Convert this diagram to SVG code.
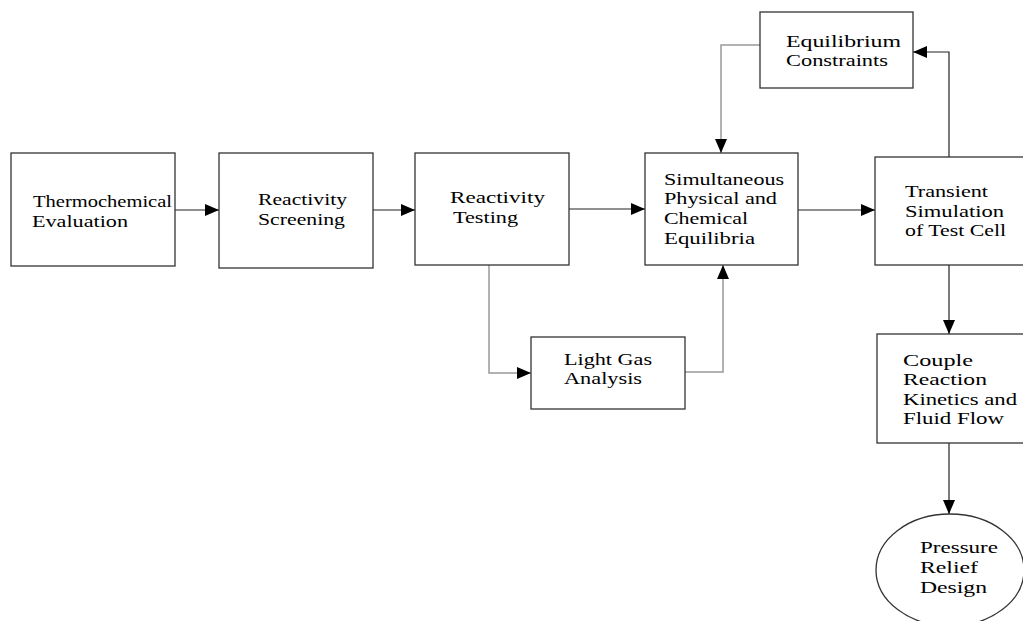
<svg xmlns="http://www.w3.org/2000/svg" width="1023" height="621" viewBox="0 0 1023 621">
<defs>
<style>
.box{fill:#fff;stroke:#333;stroke-width:1.3}
.t{font-family:"Liberation Serif","Times New Roman",serif;font-size:16px;fill:#000}
.c{fill:none;stroke:#222;stroke-width:1.2}
.g{fill:none;stroke:#999;stroke-width:1.5}
</style>
<marker id="a" viewBox="0 0 14 12" refX="14" refY="6" markerWidth="14" markerHeight="12" markerUnits="userSpaceOnUse" orient="auto">
<path d="M0,0 L14,6 L0,12 Z" fill="#000"/>
</marker>
</defs>
<rect width="1023" height="621" fill="#fff"/>
<g id="connectors">
<line class="c" x1="175" y1="210" x2="219" y2="210" marker-end="url(#a)"/>
<line class="c" x1="373" y1="210" x2="415" y2="210" marker-end="url(#a)"/>
<line class="c" x1="569" y1="209" x2="645" y2="209" marker-end="url(#a)"/>
<line class="c" x1="798" y1="210" x2="875" y2="210" marker-end="url(#a)"/>
<polyline class="c" points="949,157 949,52 913,52" marker-end="url(#a)"/>
<polyline class="g" points="760,45 721,45 721,153" marker-end="url(#a)"/>
<polyline class="g" points="489,265 489,373 531,373" marker-end="url(#a)"/>
<polyline class="g" points="685,372 723,372 723,265" marker-end="url(#a)"/>
<line class="c" x1="949" y1="265" x2="949" y2="334" marker-end="url(#a)"/>
<line class="c" x1="949" y1="443" x2="949" y2="514" marker-end="url(#a)"/>
</g>
<g id="thermochemical">
<rect class="box" x="11" y="153" width="164" height="113"/>
<text class="t" x="33" y="207" textLength="139" lengthAdjust="spacingAndGlyphs">Thermochemical</text>
<text class="t" x="32" y="227" textLength="96" lengthAdjust="spacingAndGlyphs">Evaluation</text>
</g>
<g id="screening">
<rect class="box" x="219" y="153" width="154" height="115"/>
<text class="t" x="258" y="205" textLength="89" lengthAdjust="spacingAndGlyphs">Reactivity</text>
<text class="t" x="258" y="225" textLength="87" lengthAdjust="spacingAndGlyphs">Screening</text>
</g>
<g id="testing">
<rect class="box" x="415" y="153" width="154" height="112"/>
<text class="t" x="450" y="203" textLength="95" lengthAdjust="spacingAndGlyphs">Reactivity</text>
<text class="t" x="453" y="223" textLength="65" lengthAdjust="spacingAndGlyphs">Testing</text>
</g>
<g id="equilibria">
<rect class="box" x="645" y="153" width="153" height="112"/>
<text class="t" x="664" y="185" textLength="120" lengthAdjust="spacingAndGlyphs">Simultaneous</text>
<text class="t" x="664" y="204" textLength="113" lengthAdjust="spacingAndGlyphs">Physical and</text>
<text class="t" x="664" y="224" textLength="84" lengthAdjust="spacingAndGlyphs">Chemical</text>
<text class="t" x="664" y="244" textLength="91" lengthAdjust="spacingAndGlyphs">Equilibria</text>
</g>
<g id="transient">
<rect class="box" x="875" y="157" width="160" height="108"/>
<text class="t" x="905" y="197" textLength="83" lengthAdjust="spacingAndGlyphs">Transient</text>
<text class="t" x="905" y="217" textLength="99" lengthAdjust="spacingAndGlyphs">Simulation</text>
<text class="t" x="905" y="236" textLength="101" lengthAdjust="spacingAndGlyphs">of Test Cell</text>
</g>
<g id="constraints">
<rect class="box" x="760" y="12" width="153" height="76"/>
<text class="t" x="786" y="47" textLength="115" lengthAdjust="spacingAndGlyphs">Equilibrium</text>
<text class="t" x="786" y="66" textLength="102" lengthAdjust="spacingAndGlyphs">Constraints</text>
</g>
<g id="lightgas">
<rect class="box" x="531" y="337" width="154" height="72"/>
<text class="t" x="564" y="365" textLength="88" lengthAdjust="spacingAndGlyphs">Light Gas</text>
<text class="t" x="564" y="384" textLength="78" lengthAdjust="spacingAndGlyphs">Analysis</text>
</g>
<g id="couple">
<rect class="box" x="877" y="334" width="160" height="109"/>
<text class="t" x="903" y="366" textLength="70" lengthAdjust="spacingAndGlyphs">Couple</text>
<text class="t" x="903" y="385" textLength="84" lengthAdjust="spacingAndGlyphs">Reaction</text>
<text class="t" x="903" y="405" textLength="114" lengthAdjust="spacingAndGlyphs">Kinetics and</text>
<text class="t" x="903" y="424" textLength="101" lengthAdjust="spacingAndGlyphs">Fluid Flow</text>
</g>
<g id="relief">
<ellipse class="box" cx="950" cy="570" rx="74" ry="56"/>
<text class="t" x="920" y="553" textLength="78" lengthAdjust="spacingAndGlyphs">Pressure</text>
<text class="t" x="920" y="573" textLength="58" lengthAdjust="spacingAndGlyphs">Relief</text>
<text class="t" x="920" y="593" textLength="67" lengthAdjust="spacingAndGlyphs">Design</text>
</g>
</svg>
